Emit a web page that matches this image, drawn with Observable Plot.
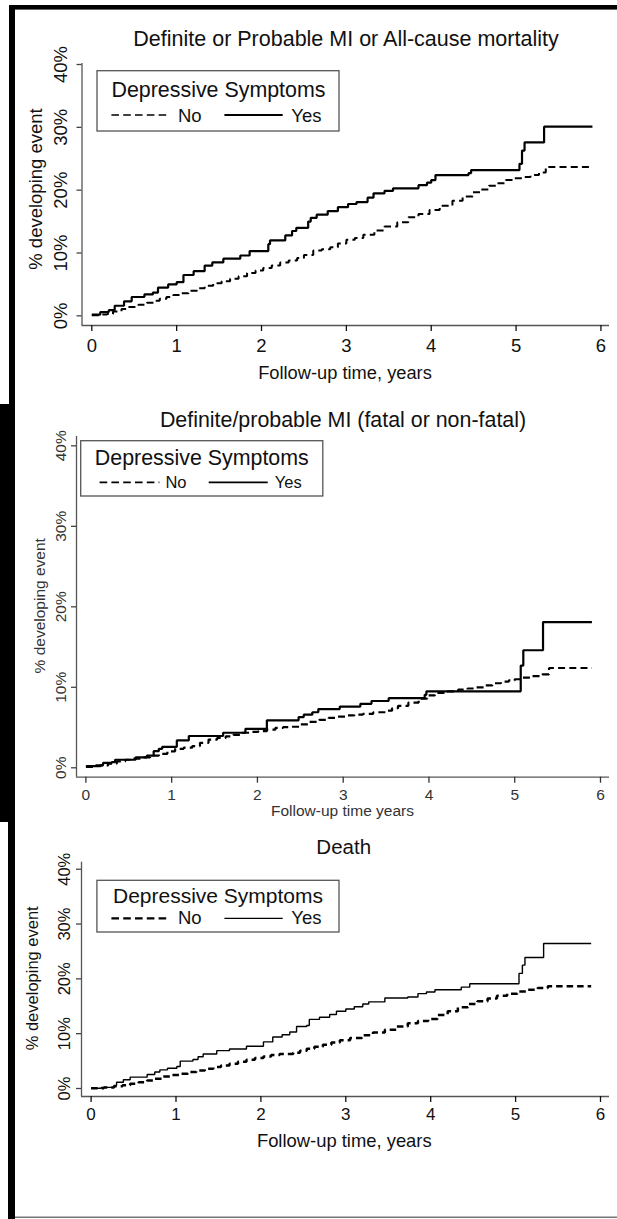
<!DOCTYPE html>
<html><head><meta charset="utf-8">
<script src="https://cdn.jsdelivr.net/npm/d3@7"></script>
<script src="https://cdn.jsdelivr.net/npm/@observablehq/plot@0.6"></script>
<style>
html,body{margin:0;padding:0;background:#fff;}
#root{position:relative;width:617px;height:1219px;overflow:hidden;background:#fff;font-family:"Liberation Sans",Arial,sans-serif;}
#root svg{position:absolute;left:0;}
</style></head><body><div id="root"></div>
<script>
// ---- data ----
const xTicks = [0, 1, 2, 3, 4, 5, 6];
const yTicks = [0, 10, 20, 30, 40];
const titles = ["Definite or Probable MI or All-cause mortality", "Definite/probable MI (fatal or non-fatal)", "Death"];
const xLabels = ["Follow-up time, years", "Follow-up time years", "Follow-up time, years"];
const yLabel = "% developing event";
const legendTitle = "Depressive Symptoms";
const seriesNames = ["No", "Yes"];

// [years, % developing event] step points
const p1No = [[0,0.1],[0.1,0.2],[0.18,0.3],[0.25,0.7],[0.35,1.1],[0.41,1.4],[0.55,1.75],[0.65,2.1],[0.73,2.4],[0.8,2.7],[0.88,3.0],[0.96,3.3],[1.04,3.6],[1.14,4.0],[1.24,4.4],[1.33,4.8],[1.43,5.2],[1.53,5.5],[1.63,5.9],[1.73,6.3],[1.83,6.8],[1.93,7.2],[2.02,7.6],[2.12,8.0],[2.22,8.5],[2.32,8.8],[2.42,9.2],[2.5,9.7],[2.61,10.4],[2.71,10.6],[2.81,10.9],[2.9,11.5],[3.0,12.1],[3.1,12.4],[3.2,12.9],[3.33,13.6],[3.45,14.2],[3.6,14.9],[3.73,15.7],[3.85,16.2],[3.98,16.85],[4.1,17.5],[4.25,18.3],[4.37,19.0],[4.49,19.65],[4.58,20.1],[4.68,20.7],[4.78,21.1],[4.88,21.6],[4.98,21.9],[5.07,22.1],[5.17,22.4],[5.27,22.8],[5.35,23.7],[5.9,23.7]];
const p1Yes = [[0,0.2],[0.1,0.6],[0.2,0.9],[0.27,1.6],[0.38,2.3],[0.47,3.0],[0.62,3.4],[0.72,3.7],[0.78,4.5],[0.9,5.0],[1.0,5.35],[1.08,6.5],[1.2,7.1],[1.33,8.0],[1.42,8.5],[1.55,9.1],[1.75,9.6],[1.86,10.3],[2.08,11.4],[2.1,12.0],[2.28,12.8],[2.36,13.5],[2.41,14.0],[2.55,15.0],[2.58,15.6],[2.65,16.1],[2.78,16.65],[2.9,17.3],[3.02,17.8],[3.12,18.1],[3.25,18.8],[3.32,19.5],[3.45,19.9],[3.55,20.3],[3.85,20.8],[3.95,21.2],[4.0,21.6],[4.05,22.4],[4.44,22.7],[4.47,23.2],[5.04,24.2],[5.07,26.3],[5.1,27.6],[5.33,30.1],[5.9,30.1]];
const p2No = [[0,0.1],[0.1,0.3],[0.26,0.5],[0.36,0.8],[0.46,1.0],[0.55,1.15],[0.65,1.3],[0.75,1.5],[0.85,1.74],[0.95,2.05],[1.04,2.36],[1.14,2.5],[1.24,2.7],[1.33,3.1],[1.43,3.5],[1.53,3.7],[1.63,3.9],[1.72,4.1],[1.82,4.35],[1.92,4.45],[2.01,4.55],[2.11,4.75],[2.21,4.97],[2.3,5.05],[2.4,5.1],[2.5,5.4],[2.6,5.7],[2.72,5.95],[2.83,6.2],[2.93,6.35],[3.03,6.5],[3.13,6.6],[3.23,6.7],[3.35,6.9],[3.5,7.1],[3.57,7.4],[3.64,7.7],[3.76,8.1],[3.88,8.6],[3.98,9.0],[4.07,9.3],[4.2,9.5],[4.34,9.7],[4.45,9.85],[4.54,10.0],[4.64,10.25],[4.74,10.5],[4.84,10.7],[4.93,10.85],[5.0,11.0],[5.09,11.2],[5.2,11.4],[5.32,11.6],[5.4,12.4],[5.9,12.4]];
const p2Yes = [[0,0.2],[0.17,0.3],[0.2,0.6],[0.3,0.7],[0.34,1.0],[0.58,1.3],[0.71,1.5],[0.79,2.06],[0.85,2.36],[0.89,2.6],[1.06,3.4],[1.2,3.95],[1.6,4.35],[1.86,4.84],[2.11,5.9],[2.48,6.3],[2.54,6.6],[2.64,6.9],[2.71,7.3],[2.96,7.6],[3.2,7.95],[3.33,8.3],[3.53,8.65],[3.95,9.07],[3.97,9.5],[5.07,12.7],[5.1,14.6],[5.33,18.1],[5.9,18.1]];
const p3No = [[0,0.05],[0.15,0.2],[0.27,0.4],[0.37,0.6],[0.46,0.85],[0.56,1.15],[0.66,1.46],[0.75,1.8],[0.85,2.2],[0.95,2.45],[1.05,2.7],[1.14,3.0],[1.24,3.3],[1.34,3.6],[1.44,3.9],[1.53,4.2],[1.63,4.5],[1.73,4.9],[1.83,5.25],[1.93,5.55],[2.03,5.85],[2.12,6.1],[2.22,6.3],[2.38,6.5],[2.46,6.9],[2.54,7.25],[2.63,7.6],[2.73,8.0],[2.83,8.4],[2.93,8.8],[3.05,9.2],[3.19,9.7],[3.32,10.2],[3.46,10.7],[3.6,11.3],[3.73,11.9],[3.85,12.3],[3.97,12.7],[4.08,13.4],[4.2,14.1],[4.32,14.8],[4.44,15.4],[4.55,15.9],[4.67,16.4],[4.78,16.9],[4.9,17.3],[5.02,17.7],[5.14,18.0],[5.26,18.35],[5.38,18.65],[5.89,18.65]];
const p3Yes = [[0,0.05],[0.12,0.2],[0.27,0.55],[0.3,1.15],[0.38,1.6],[0.46,2.07],[0.66,2.56],[0.75,3.0],[0.81,3.4],[0.9,3.7],[1.01,4.0],[1.05,5.0],[1.2,5.3],[1.26,5.8],[1.32,6.3],[1.48,6.9],[1.63,7.2],[1.83,7.7],[2.03,8.5],[2.14,9.4],[2.25,9.8],[2.34,10.3],[2.42,11.3],[2.54,11.5],[2.57,12.6],[2.69,13.0],[2.81,13.5],[2.89,14.1],[3.0,14.5],[3.1,14.9],[3.2,15.4],[3.27,15.8],[3.46,16.5],[3.73,16.7],[3.85,17.3],[3.95,17.6],[4.05,18.0],[4.36,18.5],[4.46,19.1],[5.04,21.0],[5.08,22.5],[5.11,23.9],[5.33,26.45],[5.89,26.45]];

// ---- layout (page pixels) ----
const panels = [
  {top:0, h:400, mt:63, mb:75, ml:81.5, mr:8, xd:[-0.1155,6.101], yd:[-1.54,40.16], no:p1No, yes:p1Yes,
   dash:"7,4.2", wNo:2, wYes:2.2, color:"#111", tickFs:18.5, tickPad:7.5, ytFs:18.5, ytBase:66.7,
   title:{x:346,y:45.7,fs:21.5}, xlab:{x:345,y:379.1,fs:18.3}, ylab:{x:41.7,y:189,fs:18.5},
   leg:{x0:97,x1:339,y0:70.7,y1:131,tx:218.5,ty:96.7,tfs:21.4,ly:115,d:[111.4,170],nx:178,s:[224.4,282.7],yx:291.3,base:121.7,ifs:18.5,lwNo:1.6,lwYes:1.8}},
  {top:400, h:420, mt:36, mb:43.3, ml:76, mr:8, xd:[-0.1096,6.105], yd:[-1.17,41.16], no:p2No, yes:p2Yes,
   dash:"7,4.2", wNo:2.2, wYes:2.2, color:"#333", tickFs:15.5, tickPad:5.8, ytFs:15.5, ytBase:65,
   title:{x:343,y:426.7,fs:21.4}, xlab:{x:342.5,y:815.5,fs:15.5}, ylab:{x:45,y:605.8,fs:15.5},
   leg:{x0:80.7,x1:322.8,y0:440.7,y1:496,tx:201.8,ty:465,tfs:21.4,ly:482.3,d:[99.6,159.4],nx:165.4,s:[208.7,267.7],yx:274.8,base:488.3,ifs:16.5,lwNo:1.8,lwYes:1.8}},
  {top:820, h:399, mt:41.7, mb:123, ml:81, mr:8, xd:[-0.113,6.106], yd:[-1.46,41.28], no:p3No, yes:p3Yes,
   dash:"6.5,4", wNo:2.5, wYes:1.4, color:"#111", tickFs:17, tickPad:5.8, ytFs:16.5, ytBase:69,
   title:{x:343.7,y:853.5,fs:20.5}, xlab:{x:344.3,y:1146.5,fs:18.4}, ylab:{x:37.5,y:978.3,fs:16.5},
   leg:{x0:96.9,x1:339,y0:880.3,y1:932,tx:218,ty:903.3,tfs:21,ly:918.3,d:[111.4,170],nx:178,s:[224.4,282.7],yx:291.3,base:924,ifs:18.5,lwNo:2.2,lwYes:1.2}}
];

const root = document.getElementById("root");
const FONT = '"Liberation Sans", Arial, sans-serif';

panels.forEach((p) => {
  const chart = Plot.plot({
    width: 617, height: p.h,
    marginTop: p.mt, marginBottom: p.mb, marginLeft: p.ml, marginRight: p.mr,
    style: {fontFamily: FONT, background: "transparent", color: p.color, overflow: "visible"},
    x: {domain: p.xd, axis: null},
    y: {domain: p.yd, axis: null},
    marks: [
      Plot.ruleY([p.yd[0]], {stroke: "#555", strokeWidth: 1.3}),
      Plot.ruleX([p.xd[0]], {stroke: "#555", strokeWidth: 1.3}),
      Plot.axisX({ticks: xTicks, tickSize: 6, tickPadding: p.tickPad, tickFormat: (d) => String(d),
        fontSize: p.tickFs, label: null, color: p.color, strokeWidth: 1.3}),
      Plot.axisY({ticks: yTicks, tickSize: 5, tickFormat: () => "", label: null, color: "#444", strokeWidth: 1.3}),
      Plot.text(yTicks, {y: (d) => d, frameAnchor: "left", text: (d) => d + "%", rotate: -90,
        textAnchor: "middle", lineAnchor: "bottom", dx: p.ytBase - p.ml, fontSize: p.ytFs, fill: p.color}),
      Plot.line(p.no, {x: (d) => d[0], y: (d) => d[1], curve: "step-after", stroke: "black",
        strokeWidth: p.wNo, strokeDasharray: p.dash, strokeLinecap: "butt", strokeLinejoin: "miter"}),
      Plot.line(p.yes, {x: (d) => d[0], y: (d) => d[1], curve: "step-after", stroke: "black",
        strokeWidth: p.wYes, strokeLinecap: "butt", strokeLinejoin: "miter"})
    ]
  });
  chart.style.top = p.top + "px";
  chart.style.left = "0px";
  chart.style.position = "absolute";
  root.appendChild(chart);
});

// ---- overlay: frame, titles, axis labels, legends ----
const NS = "http://www.w3.org/2000/svg";
const ov = document.createElementNS(NS, "svg");
ov.setAttribute("width", 617); ov.setAttribute("height", 1219);
ov.setAttribute("viewBox", "0 0 617 1219");
ov.style.top = "0px"; ov.style.position = "absolute"; ov.style.pointerEvents = "none";
ov.style.fontFamily = FONT;
root.appendChild(ov);
function el(tag, attrs, txt) {
  const e = document.createElementNS(NS, tag);
  for (const k in attrs) e.setAttribute(k, attrs[k]);
  if (txt != null) e.textContent = txt;
  ov.appendChild(e);
  return e;
}
// frame pieces
el("rect", {x: 9, y: 5, width: 608, height: 4.6, fill: "#000"});
el("rect", {x: 9, y: 5, width: 6, height: 400, fill: "#000"});
el("rect", {x: 0, y: 404, width: 15, height: 418, fill: "#000"});
el("rect", {x: 8, y: 821, width: 7, height: 398, fill: "#000"});
el("line", {x1: 15, x2: 617, y1: 1217.2, y2: 1217.2, stroke: "#777", "stroke-width": 1.4});

panels.forEach((p, i) => {
  el("text", {x: p.title.x, y: p.title.y, "font-size": p.title.fs, "text-anchor": "middle", fill: "#111"}, titles[i]);
  el("text", {x: p.xlab.x, y: p.xlab.y, "font-size": p.xlab.fs, "text-anchor": "middle", fill: p.color}, xLabels[i]);
  el("text", {transform: `translate(${p.ylab.x},${p.ylab.y}) rotate(-90)`, "font-size": p.ylab.fs, "text-anchor": "middle", fill: p.color}, yLabel);
  const L = p.leg;
  el("rect", {x: L.x0, y: L.y0, width: L.x1 - L.x0, height: L.y1 - L.y0, fill: "white", stroke: "#555", "stroke-width": 1.3});
  el("text", {x: L.tx, y: L.ty, "font-size": L.tfs, "text-anchor": "middle", fill: "#111"}, legendTitle);
  el("line", {x1: L.d[0], x2: L.d[1], y1: L.ly, y2: L.ly, stroke: "#000", "stroke-width": L.lwNo, "stroke-dasharray": "7.6,4.2"});
  el("text", {x: L.nx, y: L.base, "font-size": L.ifs, fill: "#111"}, seriesNames[0]);
  el("line", {x1: L.s[0], x2: L.s[1], y1: L.ly, y2: L.ly, stroke: "#000", "stroke-width": L.lwYes});
  el("text", {x: L.yx, y: L.base, "font-size": L.ifs, fill: "#111"}, seriesNames[1]);
});
</script>
</body></html>
